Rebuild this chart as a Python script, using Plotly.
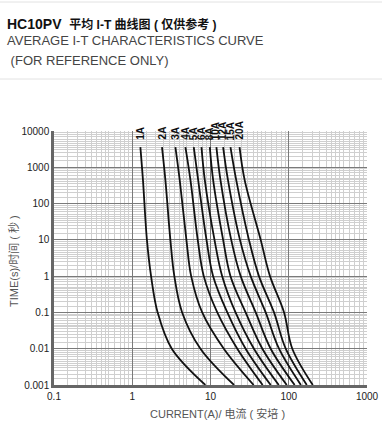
import numpy as np
import plotly.graph_objects as go

# ---- data ----
times = [3600, 450, 10, 1, 0.1, 0.01, 0.001]          # seconds
ratings = ["1A", "2A", "3A", "4A", "5A", "6A", "8A", "10A", "12A", "15A", "20A"]
currents = {
    "1A":  [1.27, 1.37, 1.54, 1.74, 2.11, 3.2, 8.6],
    "2A":  [2.40, 2.65, 3.07, 3.45, 4.34, 7.44, 20.0],
    "3A":  [3.56, 4.04, 4.92, 5.66, 7.83, 14.8, 35.6],
    "4A":  [4.78, 5.54, 6.87, 8.20, 12.2, 22.0, 46.4],
    "5A":  [6.11, 6.95, 8.89, 10.8, 16.4, 28.1, 58.8],
    "6A":  [7.67, 8.45, 11.25, 14.1, 20.9, 35.9, 74.5],
    "8A":  [9.80, 10.8, 14.5, 18.0, 28.1, 46.0, 94.3],
    "10A": [11.9, 13.4, 18.4, 24.3, 37.8, 58.8, 119],
    "12A": [14.5, 16.7, 23.8, 32.6, 50.7, 75.1, 143],
    "15A": [18.0, 21.3, 31.0, 41.6, 64.8, 91.5, 170],
    "20A": [23.5, 27.3, 43.8, 57.6, 87.1, 111, 203],
}
label_time = 5000
x_ticks = [0.1, 1, 10, 100, 1000]
x_ticktext = ["0.1", "1", "10", "100", "1000"]
y_ticks = [0.001, 0.01, 0.1, 1, 10, 100, 1000, 10000]
y_ticktext = ["0.001", "0.01", "0.1", "1", "10", "100", "1000", "10000"]
minor_steps = [1.5, 2, 2.5, 3, 3.5, 4, 4.5, 5, 6, 7, 8, 9]

FONT = "Liberation Sans, Arial, Noto Sans CJK SC, sans-serif"

fig = go.Figure()
for r in ratings:
    fig.add_trace(go.Scatter(
        x=currents[r], y=times, mode="lines", name=r,
        line=dict(color="#111111", width=1.8, shape="spline", smoothing=1.0),
        showlegend=False, hoverinfo="skip"))
    fig.add_annotation(x=np.log10(currents[r][0]), y=np.log10(label_time),
                       xref="x", yref="y", text="<b>%s</b>" % r, showarrow=False,
                       textangle=-90, xanchor="center", yanchor="bottom",
                       font=dict(family=FONT, size=10, color="#111111"))

def minors(lo, hi):
    vals = []
    for e in range(lo, hi):
        for s in minor_steps:
            vals.append(s * 10 ** e)
    return vals

axis_common = dict(type="log", showline=True, linecolor="#666666", linewidth=2.5,
                   ticks="", gridcolor="#7a7a7a", gridwidth=1.3, automargin=False,
                   tickfont=dict(family=FONT, size=10, color="#222222"),
                   zeroline=False, mirror=False)

fig.update_xaxes(range=[-1, 3], tickmode="array", tickvals=x_ticks, ticktext=x_ticktext,
                 minor=dict(tickmode="array", tickvals=minors(-1, 3), showgrid=True,
                            gridcolor="#cfcfcf", gridwidth=1, ticks=""),
                 **axis_common)
fig.update_yaxes(range=[-3, 4], tickmode="array", tickvals=y_ticks, ticktext=y_ticktext,
                 minor=dict(tickmode="array", tickvals=minors(-3, 4), showgrid=True,
                            gridcolor="#cfcfcf", gridwidth=1, ticks=""),
                 **axis_common)

W, H = 382, 428
L, R, T, B = 54, 15, 131, 43
pw, ph = W - L - R, H - T - B

def px(xp):
    return (xp - L) / pw

def py(yp):
    return (H - B - yp) / ph

# titles
fig.add_annotation(xref="paper", yref="paper", x=px(5), y=py(24), xanchor="left", yanchor="middle",
                   text="<b>HC10PV</b>  <b><span style='font-size:12px'>平均 I-T 曲线图 ( 仅供参考 )</span></b>",
                   showarrow=False, font=dict(family=FONT, size=14, color="#111111"))
fig.add_annotation(xref="paper", yref="paper", x=px(5), y=py(41), xanchor="left", yanchor="middle",
                   text="AVERAGE I-T CHARACTERISTICS CURVE", showarrow=False,
                   font=dict(family=FONT, size=13, color="#444444"))
fig.add_annotation(xref="paper", yref="paper", x=px(5), y=py(60), xanchor="left", yanchor="middle",
                   text=" (FOR REFERENCE ONLY)", showarrow=False,
                   font=dict(family=FONT, size=13, color="#444444"))
# axis titles
fig.add_annotation(xref="paper", yref="paper", x=px(217), y=py(413), xanchor="center", yanchor="middle",
                   text="CURRENT(A)/ 电流 ( 安培 )", showarrow=False,
                   font=dict(family=FONT, size=11, color="#555555"))
fig.add_annotation(xref="paper", yref="paper", x=px(13), y=py(261), xanchor="center", yanchor="middle",
                   text="TIME(s)/时间 ( 秒 )", showarrow=False, textangle=-90,
                   font=dict(family=FONT, size=11, color="#555555"))
# separator lines
for yy in (2, 79):
    fig.add_shape(type="line", xref="paper", yref="paper", x0=px(0), x1=px(W), y0=py(yy), y1=py(yy),
                  line=dict(color="#e2e2e2", width=1))

fig.update_layout(width=W, height=H, margin=dict(l=L, r=R, t=T, b=B),
                  paper_bgcolor="white", plot_bgcolor="white",
                  font=dict(family=FONT))
fig.write_html("out.html", config={"displayModeBar": False},
               post_script="document.body.style.margin='0';document.body.style.overflow='hidden';")
